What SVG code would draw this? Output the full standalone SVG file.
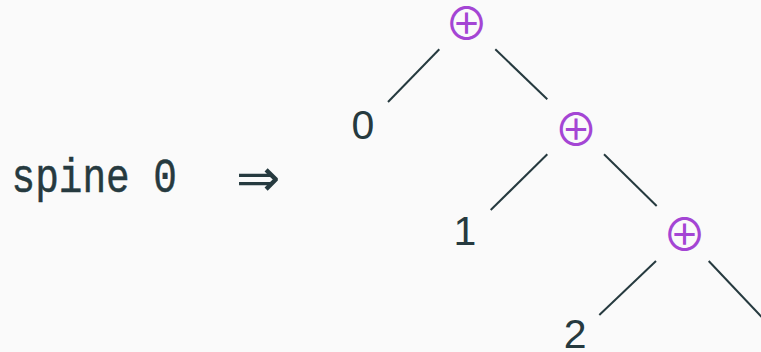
<svg xmlns="http://www.w3.org/2000/svg" width="761" height="352" viewBox="0 0 761 352">
  <style>
    .leaf { font-family: "Liberation Sans", Arial, sans-serif; font-size: 41px; fill: #263a3f; }
    .op { font-family: "Noto Sans CJK JP", "DejaVu Sans", sans-serif; font-size: 44px; fill: #a445d4; text-anchor: middle; }
    .code { font-family: "Liberation Mono", "Courier New", monospace; font-size: 39.4px; fill: #263a3f; stroke: #263a3f; stroke-width: 0.4px; }
    .arrow { font-family: "DejaVu Sans", sans-serif; font-size: 53px; fill: #263a3f; }
    .edge { stroke: #263a3f; stroke-width: 2px; fill: none; }
  </style>
  <rect width="761" height="352" fill="#fafafa"/>

  <!-- left-hand side: spine 0 ⇒ -->
  <g id="lhs">
    <text class="code" transform="translate(11.5,191.5) scale(1,1.2)">spine 0</text>
    <text class="arrow" x="236" y="196">⇒</text>
  </g>

  <!-- tree nodes -->
  <g id="plus1"><text class="op" x="466.5" y="39.5">⊕</text></g>
  <g id="leaf0"><text class="leaf" x="351.6" y="139.3">0</text></g>
  <g id="plus2"><text class="op" x="576" y="145.5">⊕</text></g>
  <g id="leaf1"><text class="leaf" x="453.5" y="245">1</text></g>
  <g id="plus3"><text class="op" x="684.5" y="251">⊕</text></g>
  <g id="leaf2"><text class="leaf" x="563.8" y="348">2</text></g>

  <!-- tree edges -->
  <g id="edges">
    <line class="edge" x1="439.3" y1="49.3" x2="388" y2="102"/>
    <line class="edge" x1="495.3" y1="49.3" x2="547.3" y2="99.3"/>
    <line class="edge" x1="547.3" y1="154.3" x2="490.7" y2="210"/>
    <line class="edge" x1="604" y1="154.3" x2="656.7" y2="206"/>
    <line class="edge" x1="656" y1="261" x2="599.3" y2="315"/>
    <line class="edge" x1="708.7" y1="261" x2="766" y2="321.5"/>
  </g>
</svg>
